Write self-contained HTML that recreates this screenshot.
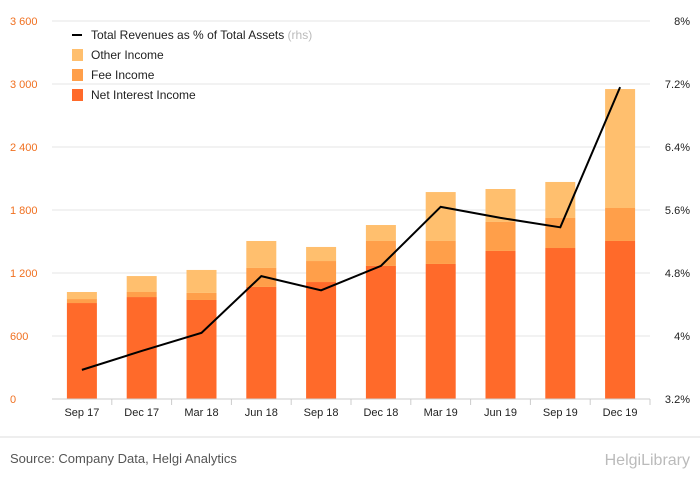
<!DOCTYPE html>
<html><head><meta charset="utf-8"><style>
body{margin:0;background:#fff;font-family:"Liberation Sans",sans-serif}
svg{display:block}
</style></head><body>
<svg id="c" width="700" height="483"></svg>
<script>
const categories=["Sep 17","Dec 17","Mar 18","Jun 18","Sep 18","Dec 18","Mar 19","Jun 19","Sep 19","Dec 19"];
const netInterest=[914,971,943,1067,1114,1267,1286,1410,1438,1505];
const feeIncome=[38,48,67,181,200,238,219,276,286,314];
const otherIncome=[67,152,219,257,134,152,466,314,343,1133];
const revPct=[3.57,3.81,4.04,4.76,4.58,4.89,5.64,5.50,5.38,7.16];
const leftTicks=[0,600,1200,1800,2400,3000,3600];
const leftTickLabels=["0","600","1 200","1 800","2 400","3 000","3 600"];
const rightTicks=[3.2,4,4.8,5.6,6.4,7.2,8];
const rightTickLabels=["3.2%","4%","4.8%","5.6%","6.4%","7.2%","8%"];

const NS="http://www.w3.org/2000/svg",svg=document.getElementById('c');
const X0=52,X1=650,Y0=399,Y1=21;
const yL=v=>Y0-(v/3600)*(Y0-Y1);
const yR=v=>Y0-((v-3.2)/4.8)*(Y0-Y1);
const step=(X1-X0)/categories.length;
const xC=i=>X0+step*(i+0.5);
function el(t,a,txt){const e=document.createElementNS(NS,t);for(const k in a)e.setAttribute(k,a[k]);if(txt!=null)e.textContent=txt;svg.appendChild(e);return e;}

leftTicks.forEach((v,i)=>{
 const g=el('line',{x1:X0,x2:X1,y1:yL(v),y2:yL(v),stroke:'#e6e6e6','stroke-width':1});
 
 
 const t=el('text',{x:10,y:yL(v)+4,'font-size':11,fill:'#f07020'},leftTickLabels[i]);
 
 
});
rightTicks.forEach((v,i)=>{
 const t=el('text',{x:690,y:yR(v)+4,'font-size':11,fill:'#222','text-anchor':'end'},rightTickLabels[i]);
 
 
});
const bw=30;
categories.forEach((c,i)=>{
 const x=xC(i)-bw/2;
 const segs=[[0,netInterest[i],'#ff6a2a','bar-net-interest'],[netInterest[i],netInterest[i]+feeIncome[i],'#ff9f4a','bar-fee-income'],[netInterest[i]+feeIncome[i],netInterest[i]+feeIncome[i]+otherIncome[i],'#ffbf6e','bar-other-income']];
 segs.forEach(s=>{
  const r=el('rect',{x:x,y:yL(s[1]),width:bw,height:yL(s[0])-yL(s[1]),fill:s[2]});
  
  
 });
 const tk=el('line',{x1:X0+step*(i+1),x2:X0+step*(i+1),y1:Y0,y2:Y0+6,stroke:'#ccc'});
 
 
 const t=el('text',{x:xC(i),y:Y0+17,'font-size':11,fill:'#222','text-anchor':'middle'},c);
 
 
});
const ax=el('line',{x1:X0,x2:X1,y1:Y0,y2:Y0,stroke:'#ccc'});


const pl=el('polyline',{points:revPct.map((v,i)=>xC(i)+','+yR(v)).join(' '),fill:'none',stroke:'#000','stroke-width':2});



const leg=[['line','#000','Total Revenues as % of Total Assets'],['rect','#ffbf6e','Other Income'],['rect','#ff9f4a','Fee Income'],['rect','#ff6a2a','Net Interest Income']];
leg.forEach((l,i)=>{
 const y=35+i*20;
 let m;
 if(l[0]=='line')m=el('rect',{x:72,y:y-1,width:10,height:2,fill:'#000'});
 else m=el('rect',{x:72,y:y-6,width:11,height:12,fill:l[1]});
 
 
 const t=el('text',{x:91,y:y+4,'font-size':12,fill:'#222'},l[2]);
 
 
 if(i==0){const s=document.createElementNS(NS,'tspan');s.setAttribute('fill','#bbb');s.textContent=' (rhs)';t.appendChild(s);}
});
const sep=el('line',{x1:0,x2:700,y1:437,y2:437,stroke:'#ddd'});


const src=el('text',{x:10,y:463,'font-size':13,fill:'#555'},'Source: Company Data, Helgi Analytics');


const logo=el('text',{x:690,y:465,'font-size':16,fill:'#bbb','text-anchor':'end'},'HelgiLibrary');


</script>
</body></html>
